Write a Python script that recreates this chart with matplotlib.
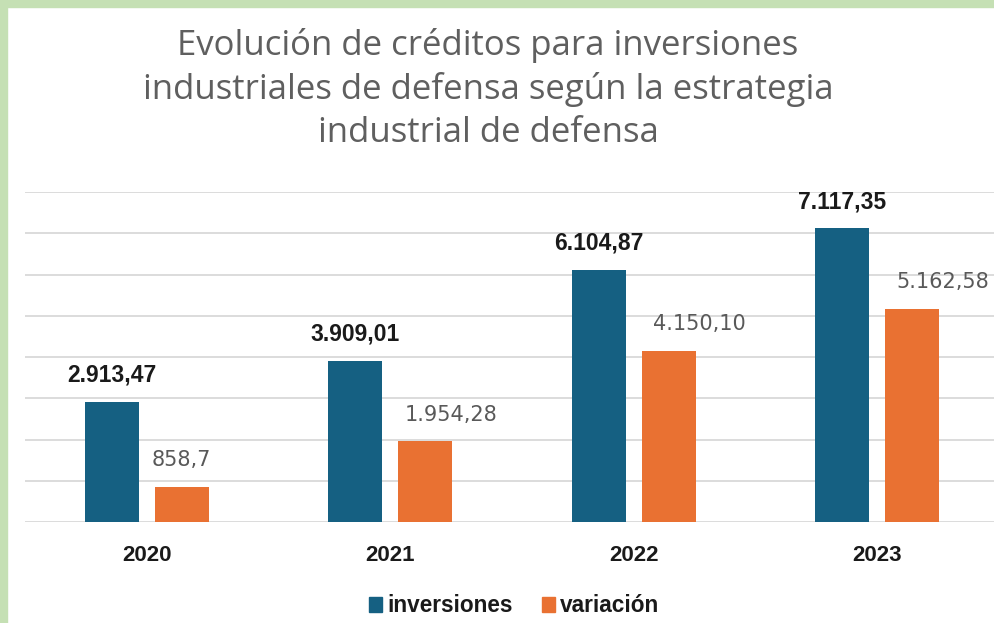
import matplotlib
matplotlib.use("Agg")
import matplotlib.pyplot as plt
from matplotlib.patches import Patch, Rectangle
import numpy as np

years = ["2020", "2021", "2022", "2023"]
inversiones = [2913.47, 3909.01, 6104.87, 7117.35]
variacion = [858.7, 1954.28, 4150.10, 5162.58]
inv_labels = ["2.913,47", "3.909,01", "6.104,87", "7.117,35"]
var_labels = ["858,7", "1.954,28", "4.150,10", "5.162,58"]
series_names = ["inversiones", "variación"]
title = ("Evolución de créditos para inversiones\n"
         "industriales de defensa según la estrategia\n"
         "industrial de defensa")

# horizontal nudges (points) applied to the orange value labels
var_label_dx = [0, 19, 22, 22]

BLUE = "#156082"
ORANGE = "#E97132"
GREEN = "#C5E0B4"

W, H = 995, 623
fig = plt.figure(figsize=(W / 100, H / 100), dpi=100)
fig.patch.set_facecolor("white")

# light green frame along the top and left edges
fig.patches.append(Rectangle((0, 0), 7 / W, 1, transform=fig.transFigure,
                             color=GREEN, zorder=0))
fig.patches.append(Rectangle((0, 1 - 7 / H), 1, 7 / H, transform=fig.transFigure,
                             color=GREEN, zorder=0))

ax = fig.add_axes([25 / W, (H - 522) / H, 974 / W, 330 / H])
x = np.arange(len(years))
bw = 0.222
off = 0.143
ax.bar(x - off, inversiones, bw, color=BLUE, zorder=3)
ax.bar(x + off, variacion, bw, color=ORANGE, zorder=3)

ax.set_xlim(-0.5, 3.5)
ax.set_ylim(0, 8000)
ax.set_yticks(np.arange(0, 8001, 1000))
ax.yaxis.grid(True, color="#d9d9d9", linewidth=1.3, zorder=0)
ax.tick_params(axis="y", left=False, labelleft=False)
ax.tick_params(axis="x", bottom=False, pad=13)
ax.set_xticks(x)
ax.set_xticklabels(years, fontsize=16, fontweight="bold", color="#1a1a1a",
                   family="Liberation Sans")
for s in ax.spines.values():
    s.set_visible(False)

for xi, v, lab in zip(x, inversiones, inv_labels):
    ax.annotate(lab, (xi - off, v), xytext=(0, 11), textcoords="offset points",
                ha="center", va="bottom", fontsize=16.5, fontweight="bold",
                color="#1a1a1a", family="Liberation Sans")
for xi, v, lab, dx in zip(x, variacion, var_labels, var_label_dx):
    ax.annotate(lab, (xi + off, v), xytext=(dx, 12), textcoords="offset points",
                ha="center", va="bottom", fontsize=15, color="#595959",
                family="DejaVu Sans")

fig.text(488 / W, 1 - 89 / H, title, ha="center", va="center",
         multialignment="center", fontsize=25, color="#5f5f5f",
         family="Open Sans", linespacing=1.33)

handles = [Patch(color=BLUE), Patch(color=ORANGE)]
leg = fig.legend(handles, series_names, loc="center", bbox_to_anchor=(514 / W, 17 / H),
                 ncol=2, frameon=False, handlelength=0.6, handleheight=0.6,
                 handletextpad=0.2, columnspacing=1.3,
                 prop={"family": "Liberation Sans", "weight": "bold", "size": 16.3})
for t in leg.get_texts():
    t.set_color("#1a1a1a")

fig.savefig("out.png", dpi=100)
